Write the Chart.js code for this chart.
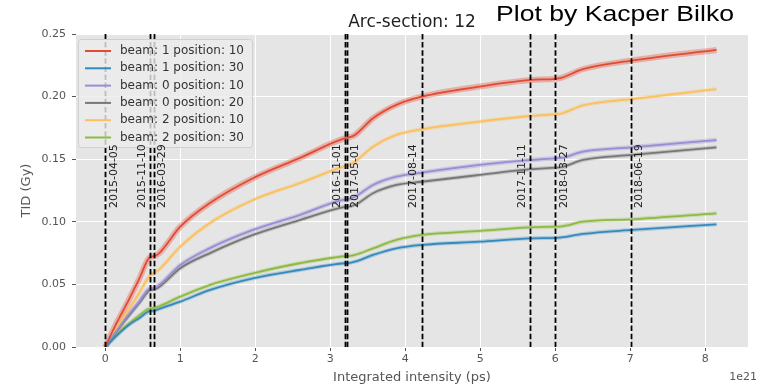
<!DOCTYPE html>
<html>
<head>
<meta charset="utf-8">
<script src="https://cdn.jsdelivr.net/npm/chart.js@4"></script>
<style>
  html, body { margin: 0; padding: 0; background: #ffffff; }
  #wrap { width: 761px; height: 387px; position: relative; }
</style>
</head>
<body>
<div id="wrap"><canvas id="c" width="761" height="387"></canvas></div>
<script>
// ---- data (x in units of 1e21 protons) ----
const intensity = [0, 0.15, 0.3, 0.45, 0.6, 0.65, 0.72, 1.0, 1.39, 1.97, 2.59, 3.2, 3.24, 3.33, 3.57, 3.88, 4.22, 4.99, 5.67, 6.0, 6.08, 6.37, 7.02, 8.15];

const seriesLabels = [
  'beam: 1 position: 10',
  'beam: 1 position: 30',
  'beam: 0 position: 10',
  'beam: 0 position: 20',
  'beam: 2 position: 10',
  'beam: 2 position: 30'
];

const tidB1P10 = [0, 0.019, 0.036, 0.054, 0.072, 0.0725, 0.075, 0.0961, 0.1148, 0.1348, 0.1508, 0.1668, 0.1672, 0.1694, 0.1827, 0.1934, 0.200, 0.208, 0.2133, 0.2142, 0.2150, 0.2219, 0.2288, 0.2373];
const tidB1P30 = [0, 0.009, 0.017, 0.023, 0.0288, 0.029, 0.0305, 0.0362, 0.0455, 0.0549, 0.0615, 0.0669, 0.0670, 0.0682, 0.0735, 0.0788, 0.0815, 0.0841, 0.0868, 0.0872, 0.0875, 0.0903, 0.0935, 0.098];
const tidB0P10 = [0, 0.013, 0.025, 0.036, 0.0469, 0.047, 0.0495, 0.0655, 0.0788, 0.0935, 0.1054, 0.118, 0.1182, 0.120, 0.1294, 0.136, 0.1393, 0.1454, 0.1494, 0.1507, 0.1510, 0.156, 0.1595, 0.1653];
const tidB0P20 = [0, 0.0125, 0.024, 0.035, 0.0455, 0.046, 0.048, 0.0629, 0.0748, 0.0895, 0.1014, 0.112, 0.1122, 0.1134, 0.1228, 0.1294, 0.132, 0.1374, 0.142, 0.1432, 0.1436, 0.1494, 0.1534, 0.1595];
const tidB2P10 = [0, 0.015, 0.029, 0.043, 0.0575, 0.059, 0.062, 0.0801, 0.0988, 0.1174, 0.1308, 0.1445, 0.1450, 0.148, 0.160, 0.1694, 0.1739, 0.180, 0.1845, 0.186, 0.1865, 0.193, 0.198, 0.206];
const tidB2P30 = [0, 0.010, 0.018, 0.025, 0.0309, 0.031, 0.0325, 0.0402, 0.0495, 0.0589, 0.0669, 0.0725, 0.0726, 0.0735, 0.0788, 0.0855, 0.0895, 0.0927, 0.0956, 0.0961, 0.0963, 0.1001, 0.102, 0.1068];

const eventDates = ['2015-04-05', '2015-11-10', '2016-03-29', '2016-11-01', '2017-05-01', '2017-08-14', '2017-11-11', '2018-03-27', '2018-06-19'];
const eventIntensity = [0, 0.6, 0.65, 3.2, 3.22, 4.22, 5.67, 6.0, 7.01];

const xTickValues = [0, 1, 2, 3, 4, 5, 6, 7, 8];
const yTickValues = [0, 0.05, 0.10, 0.15, 0.20, 0.25];

// ---- styles ----
const seriesValues = [tidB1P10, tidB1P30, tidB0P10, tidB0P20, tidB2P10, tidB2P30];
const seriesColors = ['#E24A33', '#348ABD', '#988ED5', '#777777', '#FBC15E', '#8EBA42'];
const bandColors = ['rgba(226,74,51,0.35)', 'rgba(52,138,189,0.3)', 'rgba(152,142,213,0.35)', 'rgba(119,119,119,0.3)', 'rgba(251,193,94,0.35)', 'rgba(142,186,66,0.3)'];
const bandWidths = [6, 4, 4.5, 4, 4, 4];
const labelSide = [1, -1, 1, -1, 1, -1, -1, 1, 1];

function pts(vals) { return vals.map((v, i) => ({ x: intensity[i], y: v })); }

const datasets = [];
seriesValues.forEach((vals, i) => {
  datasets.push({
    label: seriesLabels[i],
    data: pts(vals),
    borderColor: seriesColors[i],
    borderWidth: 1.8,
    pointRadius: 0,
    cubicInterpolationMode: 'monotone',
    fill: false,
    order: 1
  });
});
seriesValues.forEach((vals, i) => {
  datasets.push({
    label: '_band' + i,
    data: pts(vals),
    borderColor: bandColors[i],
    borderWidth: bandWidths[i],
    pointRadius: 0,
    cubicInterpolationMode: 'monotone',
    fill: false,
    order: 2
  });
});

Chart.defaults.font.family = "'DejaVu Sans', sans-serif";

const bgPlugin = {
  id: 'bg',
  beforeDraw(chart) {
    const { ctx, chartArea: a } = chart;
    ctx.save();
    ctx.fillStyle = '#E5E5E5';
    ctx.fillRect(a.left, a.top, a.right - a.left, a.bottom - a.top);
    ctx.restore();
  }
};

const eventPlugin = {
  id: 'events',
  afterDatasetsDraw(chart) {
    const { ctx, chartArea: a, scales } = chart;
    ctx.save();
    // dashed event lines
    ctx.strokeStyle = '#000';
    ctx.lineWidth = 1.8;
    ctx.setLineDash([5.5, 2.6]);
    eventIntensity.forEach(v => {
      const x = Math.round(scales.x.getPixelForValue(v)) + 0.5;
      ctx.beginPath();
      ctx.moveTo(x, a.top);
      ctx.lineTo(x, a.bottom);
      ctx.stroke();
    });
    ctx.setLineDash([]);

    // legend (semi-transparent, over the lines)
    const lx = 78, ly = 39, lw = 174, lh = 108;
    ctx.fillStyle = 'rgba(236,236,236,0.8)';
    ctx.strokeStyle = '#CFCFCF';
    ctx.lineWidth = 1;
    ctx.beginPath();
    ctx.roundRect(lx + 0.5, ly + 0.5, lw, lh, 3);
    ctx.fill();
    ctx.stroke();
    ctx.font = "12px 'DejaVu Sans'";
    ctx.textAlign = 'left';
    ctx.textBaseline = 'middle';
    seriesLabels.forEach((lab, i) => {
      const y = 51 + i * 17.3;
      ctx.strokeStyle = seriesColors[i];
      ctx.lineWidth = 2;
      ctx.beginPath();
      ctx.moveTo(85, y);
      ctx.lineTo(111, y);
      ctx.stroke();
      ctx.fillStyle = '#333';
      ctx.fillText(lab, 120, y);
    });

    // date labels
    ctx.fillStyle = '#222';
    ctx.font = "11px 'DejaVu Sans'";
    ctx.textAlign = 'center';
    ctx.textBaseline = 'middle';
    const yc = scales.y.getPixelForValue(0.1365);
    eventIntensity.forEach((v, i) => {
      const x = scales.x.getPixelForValue(v) + labelSide[i] * 8.5;
      ctx.save();
      ctx.translate(x, yc);
      ctx.rotate(-Math.PI / 2);
      ctx.fillText(eventDates[i], 0, 0);
      ctx.restore();
    });
    ctx.restore();
  }
};

const textPlugin = {
  id: 'texts',
  afterDraw(chart) {
    const { ctx, chartArea: a } = chart;
    ctx.save();
    const cx = (a.left + a.right) / 2;
    // title
    ctx.fillStyle = '#222';
    ctx.font = "17px 'DejaVu Sans'";
    ctx.textAlign = 'center';
    ctx.textBaseline = 'alphabetic';
    ctx.fillText('Arc-section: 12', cx, 26.5);
    // watermark
    ctx.font = "22px 'Liberation Sans', Arial, sans-serif";
    ctx.fillStyle = '#000';
    ctx.textAlign = 'left';
    const w = ctx.measureText('Plot by Kacper Bilko').width;
    ctx.save();
    ctx.translate(496, 21);
    ctx.scale(238 / w, 1);
    ctx.fillText('Plot by Kacper Bilko', 0, 0);
    ctx.restore();
    // axis titles
    ctx.fillStyle = '#555';
    ctx.font = "13px 'DejaVu Sans'";
    ctx.textAlign = 'center';
    ctx.textBaseline = 'middle';
    ctx.fillText('Integrated intensity (ps)', cx, 378);
    ctx.save();
    ctx.translate(27, (a.top + a.bottom) / 2);
    ctx.rotate(-Math.PI / 2);
    ctx.fillText('TID (Gy)', 0, 0);
    ctx.restore();
    ctx.font = "11px 'DejaVu Sans'";
    ctx.textAlign = 'right';
    ctx.fillText('1e21', 757, 377);
    ctx.restore();
  }
};

new Chart(document.getElementById('c'), {
  type: 'line',
  data: { datasets },
  options: {
    responsive: false,
    animation: false,
    devicePixelRatio: 1,
    layout: { padding: { top: 34, right: 13, left: 0, bottom: 0 } },
    plugins: { legend: { display: false }, tooltip: { enabled: false } },
    scales: {
      x: {
        type: 'linear',
        min: -0.39,
        max: 8.57,
        afterBuildTicks: s => { s.ticks = xTickValues.map(v => ({ value: v })); },
        afterFit: s => { s.height = 40; },
        ticks: { color: '#555', font: { size: 11 }, padding: 2, callback: v => String(v) },
        grid: { color: '#ffffff', lineWidth: 1, tickColor: '#555', tickLength: 4 },
        border: { display: false }
      },
      y: {
        min: 0,
        max: 0.25,
        afterBuildTicks: s => { s.ticks = yTickValues.map(v => ({ value: v })); },
        afterFit: s => { s.width = 76; },
        ticks: { color: '#555', font: { size: 11 }, padding: 6, callback: v => v.toFixed(2) },
        grid: { color: '#ffffff', lineWidth: 1, tickColor: '#555', tickLength: 4 },
        border: { display: false }
      }
    }
  },
  plugins: [bgPlugin, eventPlugin, textPlugin]
});
</script>
</body>
</html>
